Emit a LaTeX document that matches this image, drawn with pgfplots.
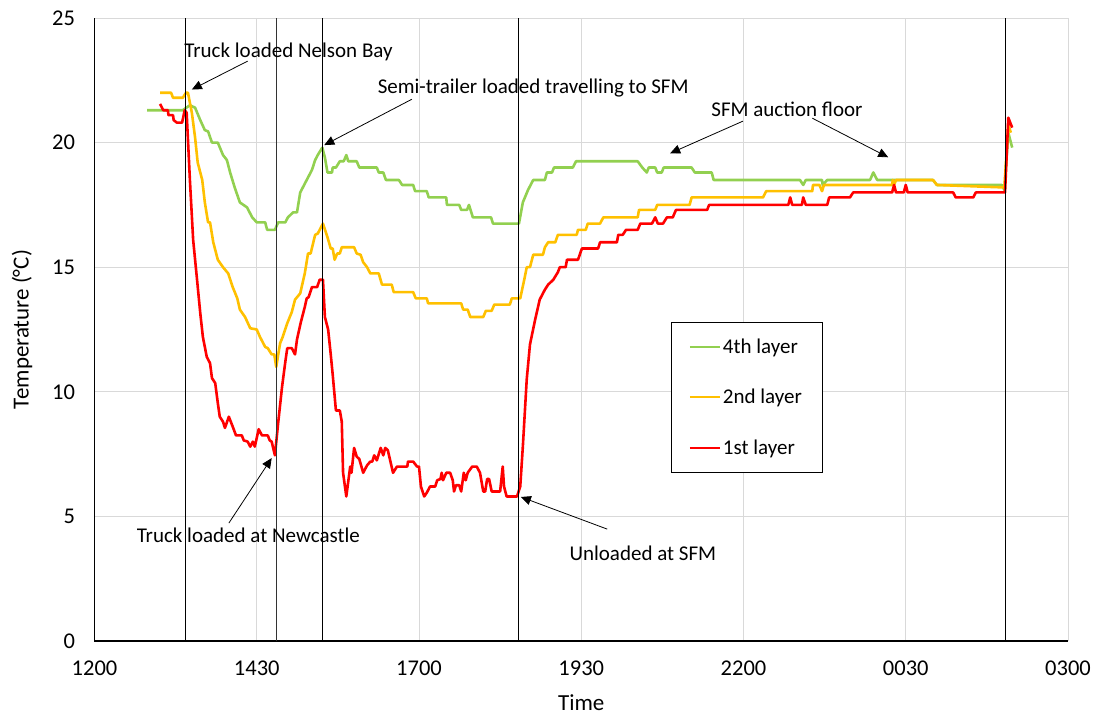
\documentclass[border=0pt]{standalone}
\usepackage{fontspec}
\setmainfont{Carlito}
\usepackage{pgfplots}
\pgfplotsset{compat=1.18}
\usetikzlibrary{arrows.meta}
\definecolor{layerfour}{HTML}{92D050}
\definecolor{layertwo}{HTML}{FFC000}
\definecolor{layerone}{HTML}{FF0000}
\definecolor{gridgray}{HTML}{D9D9D9}

\begin{document}
\begin{tikzpicture}
\begin{axis}[
  at={(0pt,0pt)}, anchor=south west,
  scale only axis, width=973.5pt, height=623pt,
  xmin=12, xmax=27, ymin=0, ymax=25,
  axis x line*=bottom, axis y line*=left,
  x axis line style={line width=1.6pt, -},
  y axis line style={line width=1.1pt, -},
  xtick={12,14.5,17,19.5,22,24.5,27},
  xticklabels={1200,1430,1700,1930,2200,0030,0300},
  ytick={0,5,10,15,20,25},
  major tick length=0pt,
  grid=major, major grid style={gridgray, line width=0.9pt},
  tick label style={font=\fontsize{22.5}{27}\selectfont},
  /pgf/number format/assume math mode=true,
  xticklabel style={yshift=-16pt},
  yticklabel style={xshift=-16pt},
  xlabel={Time}, ylabel={Temperature (°C)},
  every axis x label/.style={at={(axis description cs:0.5,-0.0995)}, anchor=center,
    font=\fontsize{23}{27}\selectfont},
  every axis y label/.style={at={(axis description cs:-0.0745,0.5)}, anchor=center, rotate=90,
    font=\fontsize{23}{27}\selectfont},
  legend cell align=left,
  legend image code/.code={\draw[#1, line width=1.9pt] (0pt,0pt) -- (30pt,0pt);},
  legend style={at={(axis description cs:0.592,0.512)}, anchor=north west,
    draw=black, fill=white,
    font=\fontsize{21}{25}\selectfont,
    inner xsep=18pt, inner ysep=14.5pt, row sep=30.5pt},
  every axis plot/.append style={line width=2.6pt, line join=round},
]

% temperature loggers, hours since noon on the x axis
\addplot[layerfour] coordinates {
(12.81,21.3) (13.36,21.3) (13.47,21.5) (13.55,21.4) (13.63,20.9) (13.70,20.5)
(13.75,20.45) (13.81,20.0) (13.90,20.0) (13.98,19.5) (14.04,19.3) (14.09,18.8)
(14.16,18.2) (14.24,17.6) (14.35,17.4) (14.43,17.0) (14.50,16.8) (14.63,16.8)
(14.66,16.5) (14.78,16.5) (14.83,16.8) (14.94,16.8) (14.98,17.0) (15.06,17.2)
(15.12,17.2) (15.17,18.0) (15.27,18.5) (15.35,18.9) (15.40,19.3) (15.44,19.5)
(15.51,19.8) (15.55,19.4) (15.59,18.8) (15.66,18.8) (15.67,19.0) (15.72,19.0)
(15.78,19.25) (15.84,19.25) (15.88,19.5) (15.91,19.25) (16.04,19.25) (16.08,19.0)
(16.35,19.0) (16.38,18.8) (16.45,18.8) (16.49,18.5) (16.69,18.5) (16.74,18.3)
(16.91,18.3) (16.94,18.05) (17.12,18.05) (17.15,17.8) (17.42,17.8) (17.43,17.5)
(17.62,17.5) (17.65,17.3) (17.74,17.3) (17.77,17.5) (17.83,17.0) (18.11,17.0)
(18.14,16.75) (18.54,16.75) (18.60,17.6) (18.68,18.1) (18.76,18.5) (18.94,18.5)
(18.97,18.8) (19.05,18.8) (19.08,19.0) (19.37,19.0) (19.42,19.25) (20.37,19.25)
(20.44,19.0) (20.51,18.8) (20.54,19.0) (20.64,19.0) (20.67,18.8) (20.74,18.8)
(20.77,19.0) (21.20,19.0) (21.25,18.8) (21.51,18.8) (21.54,18.5) (22.87,18.5)
(22.92,18.3) (22.96,18.5) (23.21,18.5) (23.22,18.3) (23.29,18.5) (23.95,18.5)
(24.00,18.8) (24.06,18.5) (24.92,18.5) (24.98,18.3) (25.98,18.3) (26.02,18.1)
(26.08,20.4) (26.14,19.8)
};
\addlegendentry{4th layer}

\addplot[layertwo] coordinates {
(13.01,22.0) (13.18,22.0) (13.21,21.8) (13.36,21.8) (13.41,22.0) (13.44,22.0)
(13.50,21.2) (13.55,20.2) (13.59,19.2) (13.66,18.5) (13.70,17.6) (13.75,16.8)
(13.78,16.8) (13.83,16.0) (13.90,15.3) (13.98,15.0) (14.06,14.75) (14.13,14.2)
(14.20,13.75) (14.24,13.3) (14.32,13.0) (14.40,12.55) (14.50,12.5) (14.55,12.2)
(14.63,11.8) (14.67,11.75) (14.73,11.5) (14.77,11.5) (14.80,11.0) (14.86,11.95)
(14.90,12.2) (14.97,12.75) (15.04,13.2) (15.09,13.7) (15.17,13.95) (15.24,14.75)
(15.29,15.55) (15.33,15.55) (15.40,16.3) (15.44,16.35) (15.52,16.75) (15.59,16.2)
(15.64,15.75) (15.67,15.75) (15.70,15.3) (15.74,15.55) (15.78,15.55) (15.81,15.8)
(16.00,15.8) (16.04,15.55) (16.10,15.5) (16.14,15.2) (16.20,15.0) (16.25,14.75)
(16.38,14.75) (16.43,14.3) (16.58,14.3) (16.61,14.0) (16.91,14.0) (16.95,13.75)
(17.12,13.75) (17.14,13.55) (17.65,13.55) (17.68,13.3) (17.75,13.3) (17.79,13.0)
(17.99,13.0) (18.03,13.25) (18.12,13.25) (18.16,13.5) (18.40,13.5) (18.43,13.75)
(18.56,13.75) (18.63,14.6) (18.66,15.0) (18.71,15.0) (18.76,15.5) (18.91,15.5)
(18.94,15.8) (18.99,16.0) (19.10,16.0) (19.14,16.3) (19.43,16.3) (19.45,16.5)
(19.57,16.5) (19.60,16.75) (19.79,16.75) (19.84,17.0) (20.37,17.0) (20.39,17.3)
(20.64,17.3) (20.67,17.5) (21.17,17.5) (21.20,17.8) (22.30,17.8) (22.35,18.05)
(23.06,18.05) (23.07,18.3) (23.17,18.3) (23.21,18.05) (23.24,18.3) (24.29,18.3)
(24.30,18.5) (24.32,18.3) (24.35,18.5) (24.92,18.5) (24.98,18.3) (26.02,18.2)
(26.08,20.7) (26.12,20.4)
};
\addlegendentry{2nd layer}

\addplot[layerone] coordinates {
(13.01,21.55) (13.06,21.3) (13.13,21.3) (13.14,21.1) (13.21,21.1) (13.22,20.9)
(13.27,20.8) (13.35,20.8) (13.39,21.3) (13.42,21.2) (13.47,18.5) (13.52,16.1)
(13.58,14.5) (13.63,13.15) (13.67,12.2) (13.73,11.4) (13.78,11.15) (13.81,10.55)
(13.86,10.35) (13.90,9.55) (13.93,9.0) (13.98,8.8) (14.01,8.55) (14.07,9.0)
(14.13,8.6) (14.18,8.25) (14.27,8.25) (14.30,8.05) (14.36,8.0) (14.40,7.8)
(14.44,8.0) (14.47,7.8) (14.53,8.5) (14.58,8.25) (14.67,8.25) (14.70,8.05)
(14.73,8.0) (14.78,7.45) (14.83,8.75) (14.89,10.2) (14.94,11.2) (14.97,11.75)
(15.04,11.75) (15.09,11.5) (15.12,12.1) (15.18,12.8) (15.24,13.4) (15.27,13.75)
(15.30,13.8) (15.35,14.2) (15.43,14.2) (15.47,14.5) (15.52,14.5) (15.55,13.0)
(15.60,12.5) (15.64,11.5) (15.67,10.7) (15.72,9.25) (15.78,9.25) (15.81,8.8)
(15.83,6.75) (15.88,5.8) (15.94,7.0) (15.96,6.75) (16.00,7.75) (16.04,7.4)
(16.08,7.3) (16.14,6.75) (16.20,7.05) (16.25,7.2) (16.28,7.2) (16.31,7.45)
(16.35,7.25) (16.41,7.75) (16.45,7.45) (16.48,7.75) (16.52,7.65) (16.60,6.75)
(16.66,7.0) (16.82,7.0) (16.83,7.2) (16.91,7.2) (16.97,7.0) (17.00,7.0)
(17.03,6.2) (17.08,5.8) (17.12,5.95) (17.17,6.2) (17.25,6.2) (17.28,6.45)
(17.33,6.5) (17.35,6.75) (17.37,6.45) (17.42,6.75) (17.48,6.75) (17.52,6.45)
(17.54,6.0) (17.57,6.25) (17.62,6.25) (17.65,6.0) (17.69,6.75) (17.72,6.45)
(17.75,6.75) (17.82,7.0) (17.89,7.0) (17.94,6.75) (17.99,6.0) (18.02,6.0)
(18.05,6.5) (18.08,6.5) (18.12,6.0) (18.25,6.0) (18.29,7.0) (18.31,6.2)
(18.35,5.8) (18.51,5.8) (18.56,6.2) (18.60,7.8) (18.66,10.5) (18.71,11.9)
(18.79,12.9) (18.86,13.7) (18.94,14.1) (18.99,14.3) (19.07,14.5) (19.14,14.8)
(19.17,15.0) (19.26,15.0) (19.28,15.3) (19.45,15.3) (19.51,15.75) (19.76,15.75)
(19.79,16.0) (20.05,16.0) (20.07,16.3) (20.14,16.3) (20.19,16.5) (20.37,16.5)
(20.41,16.75) (20.59,16.75) (20.64,17.0) (20.68,16.75) (20.76,16.75) (20.82,17.0)
(20.91,17.0) (20.96,17.3) (21.44,17.3) (21.47,17.5) (22.69,17.5) (22.72,17.8)
(22.75,17.5) (22.90,17.5) (22.92,17.8) (22.96,17.5) (23.29,17.5) (23.32,17.8)
(23.64,17.8) (23.69,18.0) (24.29,18.0) (24.32,18.3) (24.35,18.0) (24.47,18.0)
(24.50,18.3) (24.53,18.0) (25.23,18.0) (25.27,17.8) (25.54,17.8) (25.58,18.0)
(26.03,18.0) (26.08,21.0) (26.14,20.6)
};
\addlegendentry{1st layer}

% event markers
\addplot[black, line width=0.9pt, forget plot] coordinates {(13.40,0) (13.40,25)};
\addplot[black!80, line width=1.1pt, forget plot] coordinates {(14.81,0) (14.81,25)};
\addplot[black, line width=0.9pt, forget plot] coordinates {(15.51,0) (15.51,25)};
\addplot[black, line width=0.9pt, forget plot] coordinates {(18.54,0) (18.54,25)};
\addplot[black, line width=0.9pt, forget plot] coordinates {(26.04,0) (26.04,25)};

% annotations
\begin{scope}[every node/.style={font=\fontsize{21}{25}\selectfont, anchor=base, inner sep=0pt},
              note/.style={-{Triangle[length=10pt,width=9pt]}, line width=0.8pt, black}]
\node at (axis cs:14.99,23.43) {Truck loaded Nelson Bay};
\draw[note] (axis cs:14.36,23.27) -- (axis cs:13.50,22.13);
\node at (axis cs:18.76,21.98) {Semi-trailer loaded travelling to SFM};
\draw[note] (axis cs:16.89,21.74) -- (axis cs:15.54,19.90);
\node at (axis cs:22.67,21.06) {SFM auction floor};
\draw[note] (axis cs:21.99,20.86) -- (axis cs:20.87,19.57);
\draw[note] (axis cs:23.06,20.98) -- (axis cs:24.23,19.41);
\node at (axis cs:14.37,3.97) {Truck loaded at Newcastle};
\draw[note] (axis cs:14.07,4.73) -- (axis cs:14.73,7.34);
\node at (axis cs:20.45,3.25) {Unloaded at SFM};
\draw[note] (axis cs:19.90,4.49) -- (axis cs:18.57,5.78);
\end{scope}
\end{axis}
\pgfresetboundingbox
\path[use as bounding box] (-94.5pt,-74pt) rectangle (1003.5pt,641pt);
\end{tikzpicture}
\end{document}
